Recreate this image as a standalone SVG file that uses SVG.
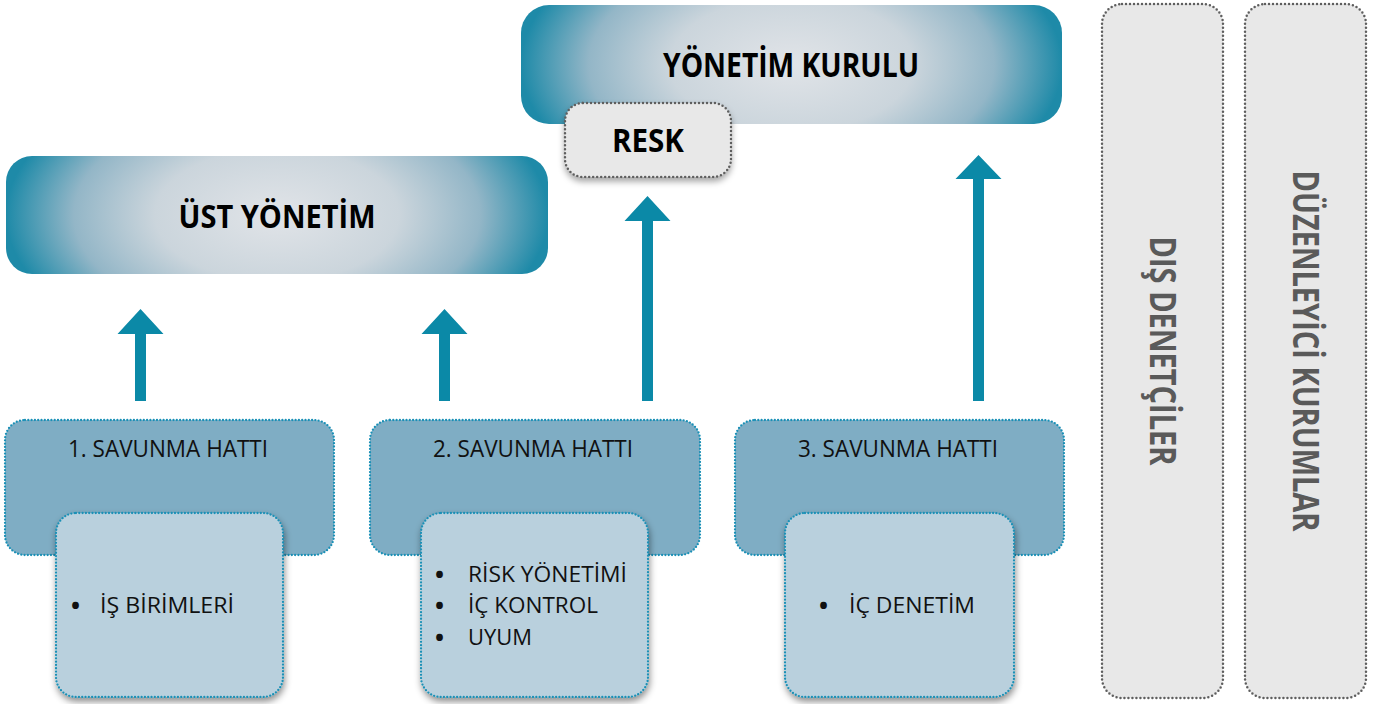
<svg xmlns="http://www.w3.org/2000/svg" width="1384" height="704" viewBox="0 0 1384 704">
<defs>
<radialGradient id="grad" cx="0.5" cy="0.5" r="0.5" gradientTransform="translate(0.5 0.5) scale(1 2.5) translate(-0.5 -0.5)">
<stop offset="0" stop-color="#e1e4e8"/>
<stop offset="0.45" stop-color="#cbd5dc"/>
<stop offset="0.75" stop-color="#93b6c7"/>
<stop offset="1" stop-color="#1e8aa8"/>
</radialGradient>
<filter id="sh" x="-20%" y="-20%" width="140%" height="140%">
<feDropShadow dx="1" dy="4" stdDeviation="3.5" flood-color="#000" flood-opacity="0.45"/>
</filter>
<filter id="sh2" x="-20%" y="-20%" width="140%" height="150%">
<feDropShadow dx="0" dy="4" stdDeviation="3" flood-color="#000" flood-opacity="0.35"/>
</filter>
</defs>
<style>
.title{font-family:"Open Sans","Noto Sans",sans-serif;font-weight:700;fill:#000;}
.lbl{font-family:"Open Sans","Noto Sans",sans-serif;font-weight:400;fill:#111;}
.bul{font-family:"Open Sans","Noto Sans",sans-serif;font-weight:700;fill:#111;}
.vert{font-family:"Open Sans","Noto Sans",sans-serif;font-weight:700;fill:#5a5a5a;}
.outer{fill:#7fadc4;stroke:#1a90b6;stroke-width:2.3;stroke-dasharray:0 3.3;stroke-linecap:round;}
.inner{fill:#b9d0dd;stroke:#1a90b6;stroke-width:2.3;stroke-dasharray:0 3.3;stroke-linecap:round;}
.gray{fill:#e8e8e8;stroke:#5e5e5e;stroke-width:2.5;stroke-dasharray:0 4;stroke-linecap:round;}
.arrow{fill:#0b89a7;}
</style>

<g id="ust-yonetim">
<rect x="6" y="156" width="542" height="118" rx="26" fill="url(#grad)"/>
<text class="title" x="277" y="228" font-size="33" text-anchor="middle" textLength="197" lengthAdjust="spacingAndGlyphs">ÜST YÖNETİM</text>
</g>

<g id="yonetim-kurulu">
<rect x="521" y="5" width="541" height="119" rx="28" fill="url(#grad)"/>
<text class="title" x="791" y="77" font-size="34" text-anchor="middle" textLength="256" lengthAdjust="spacingAndGlyphs">YÖNETİM KURULU</text>
</g>

<g id="resk">
<rect class="gray" x="565" y="103" width="166" height="74" rx="18" filter="url(#sh2)"/>
<text class="title" x="648" y="152" font-size="33" text-anchor="middle" textLength="72" lengthAdjust="spacingAndGlyphs">RESK</text>
</g>

<g id="dis-denetciler">
<rect class="gray" x="1102" y="4" width="121" height="694" rx="20"/>
<text class="vert" transform="translate(1150 351) rotate(90)" x="0" y="0" font-size="35" text-anchor="middle" textLength="229" lengthAdjust="spacingAndGlyphs">DIŞ DENETÇİLER</text>
</g>

<g id="duzenleyici-kurumlar">
<rect class="gray" x="1245" y="4" width="121" height="694" rx="20"/>
<text class="vert" transform="translate(1293 351) rotate(90)" x="0" y="0" font-size="35" text-anchor="middle" textLength="361" lengthAdjust="spacingAndGlyphs">DÜZENLEYİCİ KURUMLAR</text>
</g>

<g id="savunma-1">
<rect class="outer" x="5" y="420" width="329" height="135" rx="20"/>
<text class="lbl" x="168" y="457" font-size="23" text-anchor="middle" textLength="200" lengthAdjust="spacingAndGlyphs">1. SAVUNMA HATTI</text>
<rect class="inner" x="56" y="513" width="227" height="184" rx="20" filter="url(#sh)"/>
<text class="bul" x="71" y="614" font-size="24">•</text>
<text class="lbl" x="100" y="613" font-size="21" textLength="134" lengthAdjust="spacingAndGlyphs">İŞ BİRİMLERİ</text>
</g>

<g id="savunma-2">
<rect class="outer" x="370" y="420" width="330" height="135" rx="20"/>
<text class="lbl" x="533" y="457" font-size="23" text-anchor="middle" textLength="200" lengthAdjust="spacingAndGlyphs">2. SAVUNMA HATTI</text>
<rect class="inner" x="421" y="513" width="227" height="184" rx="20" filter="url(#sh)"/>
<text class="bul" x="435" y="583" font-size="24">•</text>
<text class="lbl" x="468" y="582" font-size="21" textLength="159" lengthAdjust="spacingAndGlyphs">RİSK YÖNETİMİ</text>
<text class="bul" x="435" y="614" font-size="24">•</text>
<text class="lbl" x="468" y="613" font-size="21" textLength="130" lengthAdjust="spacingAndGlyphs">İÇ KONTROL</text>
<text class="bul" x="435" y="646" font-size="24">•</text>
<text class="lbl" x="468" y="645" font-size="21" textLength="64" lengthAdjust="spacingAndGlyphs">UYUM</text>
</g>

<g id="savunma-3">
<rect class="outer" x="735" y="420" width="329" height="135" rx="20"/>
<text class="lbl" x="898" y="457" font-size="23" text-anchor="middle" textLength="200" lengthAdjust="spacingAndGlyphs">3. SAVUNMA HATTI</text>
<rect class="inner" x="785" y="513" width="229" height="184" rx="20" filter="url(#sh)"/>
<text class="bul" x="819" y="614" font-size="24">•</text>
<text class="lbl" x="849" y="613" font-size="21" textLength="126" lengthAdjust="spacingAndGlyphs">İÇ DENETİM</text>
</g>

<g id="connectors">
<polygon class="arrow" points="140.5,309 163.5,334 146,334 146,401 135,401 135,334 117.5,334"/>
<polygon class="arrow" points="444.5,309 467.5,334 450,334 450,401 439,401 439,334 421.5,334"/>
<polygon class="arrow" points="647.5,196 670.5,221 653,221 653,401 642,401 642,221 624.5,221"/>
<polygon class="arrow" points="978.5,155 1001.5,179 984,179 984,401 973,401 973,179 955.5,179"/>
</g>
</svg>
